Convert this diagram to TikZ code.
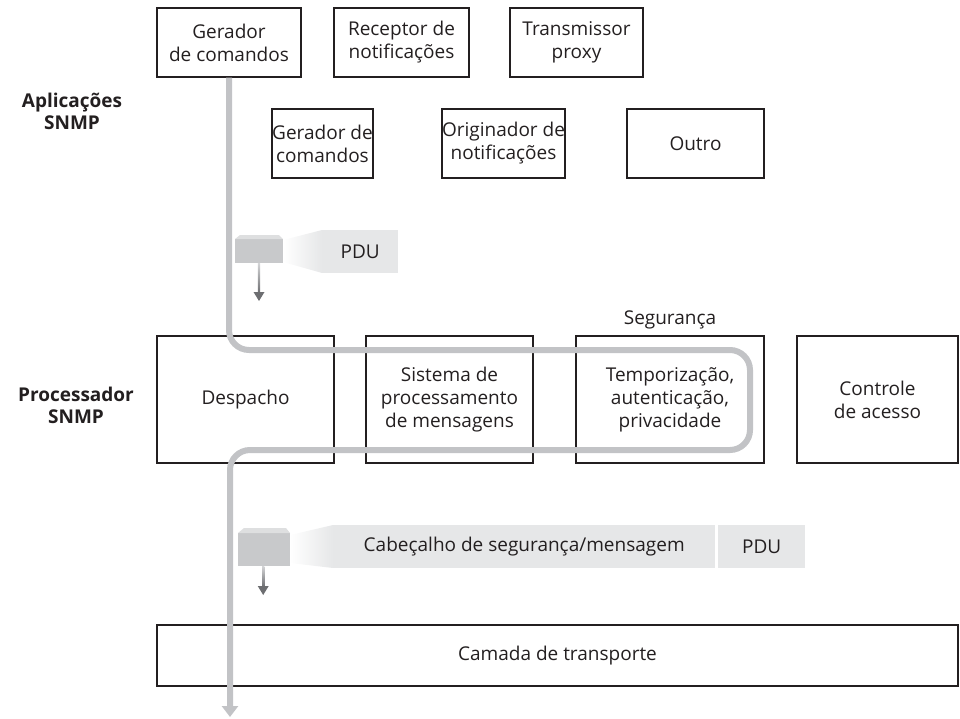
\documentclass[tikz,border=0pt]{standalone}
\usepackage{fontspec}
\setmainfont{Open Sans}
\usetikzlibrary{arrows.meta}
\definecolor{ink}{HTML}{231F20}
\definecolor{pipe}{HTML}{C2C3C6}
\definecolor{cubefront}{HTML}{C8C9CB}
\definecolor{cubetop}{HTML}{DEDFE0}
\definecolor{band}{HTML}{E6E7E8}
\definecolor{tipgray}{HTML}{6D6E71}
\begin{document}
\begin{tikzpicture}[x=1pt,y=-1pt,
  txt/.style={text=ink, align=center, inner sep=0pt, font=\fontsize{19}{23}\selectfont},
  box/.style={txt, draw=ink, line width=1.1pt},
  hd/.style={txt, font=\fontsize{19}{22}\selectfont\bfseries},
  pipeline/.style={draw=pipe, line width=6pt, rounded corners=20pt, -{Triangle[width=16pt,length=11pt]}},
  shaft/.style={top color=pipe!70, bottom color=tipgray},
  bandbox/.style={txt, fill=band, anchor=west}]
\useasboundingbox (0,0) rectangle (960,718);

% Application layer
\node[hd] (apps) at (72,111) {Aplicações\\SNMP};
\node[box, minimum width=144pt, minimum height=69pt] (a1) at (229,42.5) {Gerador\\de comandos};
\node[box, minimum width=135pt, minimum height=69pt] (a2) at (401.5,42.5) {Receptor de\\notificações};
\node[box, minimum width=133pt, minimum height=69pt] (a3) at (576.5,42.5) {Transmissor\\proxy};
\node[box, minimum width=101pt, minimum height=69pt] (b1) at (322.5,143.5) {Gerador de\\comandos};
\node[box, minimum width=101pt, minimum height=69pt] (b2) at (503.5,143.5) {Originador de\\notificações};
\node[box, minimum width=137pt, minimum height=69pt] (b3) at (695.5,143.5) {Outro};

% Processor
\node[hd] (proc) at (76,405) {Processador\\SNMP};
\node[txt] (seglbl) at (670,320) {Segurança};
\node[box, minimum width=177pt, minimum height=127pt] (p1) at (245.5,399.5) {Despacho};
\node[box, minimum width=167pt, minimum height=127pt] (p2) at (449.5,399.5) {Sistema de\\processamento\\de mensagens};
\node[box, minimum width=188pt, minimum height=127pt] (p3) at (670,399.5) {Temporização,\\autenticação,\\privacidade};
\node[box, minimum width=161pt, minimum height=127pt] (p4) at (877.5,399.5) {Controle\\de acesso};

% Transport
\node[box, minimum width=801pt, minimum height=61pt] (tr) at (557.5,655.5) {Camada de transporte};

% PDU packet 1
\fill[cubefront] (235,239) rectangle (283,263);
\fill[cubetop] (235,239) -- (240,235) -- (279,235) -- (283,239) -- cycle;
\shade[left color=white, right color=band] (283,240) -- (322,230) -- (322,273) -- (283,262) -- cycle;
\node[bandbox, minimum width=76pt, minimum height=43pt] (pdu1) at (322,251.5) {PDU};
\coordinate (s1a) at (259,263);
\coordinate (s1b) at (259,293);
\shade[shaft] (257.8,263) rectangle (260.2,293);
\fill[tipgray] (253.5,292) -- (264.5,292) -- (259,301) -- cycle;

% PDU packet 2
\fill[cubefront] (238,533) rectangle (290,566);
\fill[cubetop] (238,533) -- (244,528) -- (286,528) -- (290,533) -- cycle;
\shade[left color=white, right color=band] (290,535) -- (333,525) -- (333,568) -- (290,563) -- cycle;
\node[bandbox, minimum width=382pt, minimum height=43pt] (hdr) at (333,546.5) {Cabeçalho de segurança/mensagem};
\node[bandbox, minimum width=87pt, minimum height=43pt] (pdu2) at (718,546.5) {PDU};
\shade[shaft] (262,566) rectangle (264.4,587);
\fill[tipgray] (257.7,586) -- (268.7,586) -- (263.2,595) -- cycle;

% Message path
\coordinate (c1) at (750,350);
\coordinate (c2) at (750,450);
\coordinate (c3) at (230,450);
\coordinate (pathend) at (230,717);
\draw[pipeline] (a1.south) |- (c1) -- (c2) -- (c3) -- (pathend);
\end{tikzpicture}
\end{document}
